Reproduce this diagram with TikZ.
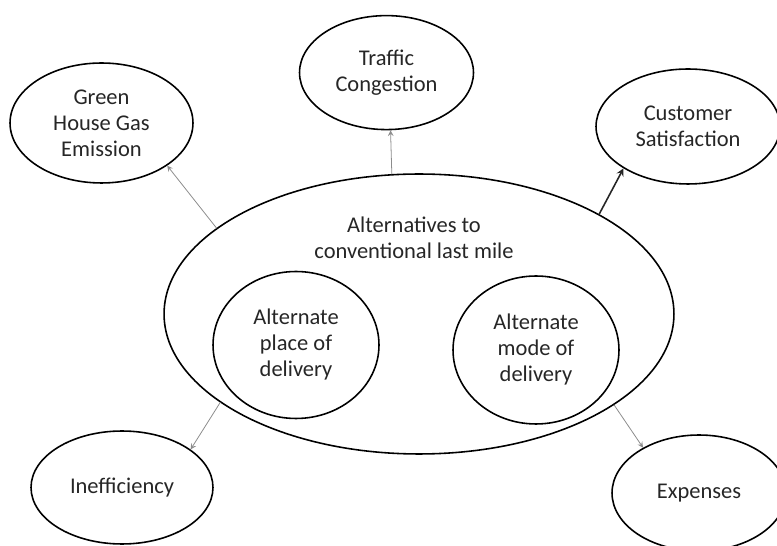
\documentclass[tikz,border=0pt]{standalone}
\usepackage{fontspec}
\setmainfont{Carlito}
\usetikzlibrary{shapes.geometric}

\begin{document}
\begin{tikzpicture}[
    >=stealth,
    line cap=round,
    line join=round,
    x=0.02cm, y=-0.02cm,
    bubble/.style={draw, ellipse, line width=0.9pt, inner sep=0pt,
        align=center, text=black!85,
        font=\fontsize{12.8}{14.8}\selectfont},
    caption/.style={inner sep=0pt, align=center, text=black!85,
        font=\fontsize{12.8}{14.8}\selectfont},
    link/.style={->, line width=0.45pt, draw=black!45},
    boldlink/.style={->, line width=0.9pt, draw=black!85}
]

\useasboundingbox (0,0) rectangle (777,546);

%------------------------------------------------
% Central ellipse and its two inner ellipses
%------------------------------------------------
\node[bubble, minimum width=10.2cm, minimum height=5.6cm] (main) at (419,314) {};
\node[caption] (mainlabel) at (414,238)
    {Alternatives to\\conventional last mile};

\node[bubble, minimum width=3.32cm, minimum height=2.94cm] (place) at (296,345)
    {Alternate\\place of\\delivery};
\node[bubble, minimum width=3.32cm, minimum height=2.96cm] (mode) at (536,350)
    {Alternate\\mode of\\delivery};

%------------------------------------------------
% Outer ellipses
%------------------------------------------------
\node[bubble, minimum width=3.48cm, minimum height=2.28cm] (traffic) at (386.5,72.6)
    {Traffic\\Congestion};
\node[bubble, minimum width=3.66cm, minimum height=2.4cm] (green) at (101.5,123)
    {Green\\House Gas\\Emission};
\node[bubble, minimum width=3.68cm, minimum height=2.3cm] (customer) at (688,126.5)
    {Customer\\Satisfaction};
\node[bubble, minimum width=3.64cm, minimum height=2.26cm] (ineff) at (122,487.5)
    {Inefficiency};
\node[bubble, minimum width=3.48cm, minimum height=2.32cm] (expenses) at (699,493)
    {Expenses};

%------------------------------------------------
% Arrows out of the central ellipse
%------------------------------------------------
\draw[link] (main.157.1) -- (green.-33.4);
\draw[link] (main.101.5) -- (traffic.-86.3);
\draw[boldlink] (main.29) -- (customer.-147.3);
\draw[link] (main.204.5) -- (ineff.29.2);
\draw[link] (main.-25.4) -- (expenses.141.8);

\end{tikzpicture}
\end{document}
